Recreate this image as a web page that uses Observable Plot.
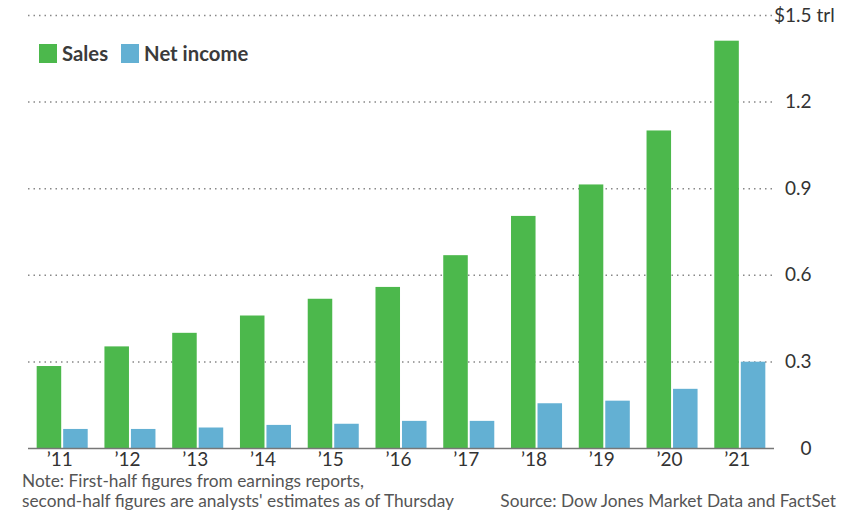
<!DOCTYPE html>
<html>
<head>
<meta charset="utf-8">
<script src="https://cdn.jsdelivr.net/npm/d3@7"></script>
<script src="https://cdn.jsdelivr.net/npm/@observablehq/plot@0.6"></script>
<style>
  html, body { margin: 0; padding: 0; background: #fff; }
  #wrap { position: relative; width: 844px; height: 511px; overflow: hidden; font-family: Lato, "Open Sans", sans-serif; }
  #chart { position: absolute; left: 0; top: 0; }
  .legend { position: absolute; left: 39px; top: 43px; display: flex; align-items: center; font-weight: bold; font-size: 20.3px; color: #3b3b3b; line-height: 20px; }
  .legend .sw { display: inline-block; width: 18px; height: 19px; margin-right: 5px; }
  .legend .item { display: flex; align-items: center; margin-right: 13px; }
  .note { position: absolute; left: 22px; top: 471px; font-size: 17.3px; line-height: 19.5px; color: #555; }
  .source { position: absolute; right: 8px; top: 490.5px; font-size: 17.3px; line-height: 19.5px; color: #555; }
</style>
</head>
<body>
<div id="wrap">
  <div id="chart"></div>
  <div class="legend" id="legend"></div>
  <div class="note">Note: First-half figures from earnings reports,<br>second-half figures are analysts' estimates as of Thursday</div>
  <div class="source">Source: Dow Jones Market Data and FactSet</div>
</div>
<script>
// Data (trillions of dollars)
const years = ["’11","’12","’13","’14","’15","’16","’17","’18","’19","’20","’21"];
const sales = [0.284, 0.352, 0.399, 0.459, 0.517, 0.558, 0.668, 0.804, 0.913, 1.100, 1.411];
const netIncome = [0.066, 0.066, 0.071, 0.080, 0.084, 0.094, 0.094, 0.155, 0.164, 0.205, 0.299];
const yTicks = [0, 0.3, 0.6, 0.9, 1.2, 1.5];
const seriesNames = ["Sales", "Net income"];
const seriesColors = ["#4cb84c", "#63b0d3"];

const salesRows = years.map((y, i) => ({year: y, value: sales[i]}));
const netRows = years.map((y, i) => ({year: y, value: netIncome[i]}));

const chart = Plot.plot({
  width: 844,
  height: 472,
  marginTop: 15,
  marginBottom: 24,
  marginLeft: 28,
  marginRight: 70,
  style: {fontFamily: "Lato, 'Open Sans', sans-serif", fontSize: "19px", color: "#333", background: "#fff"},
  x: {domain: years, paddingInner: 0.247, paddingOuter: 0.128, round: false, label: null},
  y: {domain: [0, 1.5], nice: false, label: null},
  marks: [
    Plot.ruleY(yTicks.filter(d => d > 0), {stroke: "#888", strokeWidth: 1.5, strokeDasharray: "1.5,4"}),
    Plot.barY(salesRows, {x: "year", y: "value", fill: seriesColors[0], insetRight: 26.5}),
    Plot.barY(netRows, {x: "year", y: "value", fill: seriesColors[1], insetLeft: 26.5}),
    Plot.ruleY([0], {stroke: "#777", strokeWidth: 1.5}),
    Plot.axisX({tickSize: 0, tickPadding: 4, dx: -3, fontSize: 19, label: null}),
    Plot.axisY(yTicks, {anchor: "right", tickSize: 0, tickPadding: 0, textAnchor: "end", dx: 37, fontSize: 19, label: null,
      tickFormat: d => d === 1.5 ? "$1.5" : (d === 0 ? "0" : d.toFixed(1))}),
    Plot.text([1.5], {y: d => d, frameAnchor: "right", text: () => "trl", textAnchor: "start", dx: 42, fontSize: 19, fill: "#333"})
  ]
});
document.getElementById("chart").appendChild(chart);

const legend = document.getElementById("legend");
seriesNames.forEach((name, i) => {
  const item = document.createElement("span");
  item.className = "item";
  const sw = document.createElement("span");
  sw.className = "sw";
  sw.style.background = seriesColors[i];
  item.appendChild(sw);
  item.appendChild(document.createTextNode(name));
  legend.appendChild(item);
});
</script>
</body>
</html>
